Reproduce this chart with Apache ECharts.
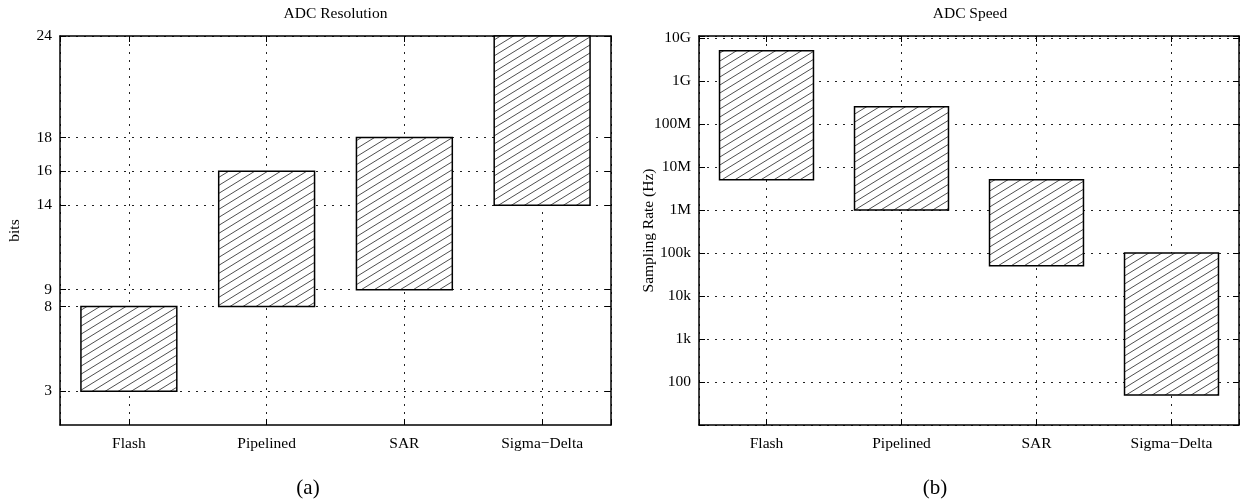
<!DOCTYPE html>
<html><head><meta charset="utf-8">
<script src="https://cdn.jsdelivr.net/npm/echarts@6/dist/echarts.min.js"></script>
<style>html,body{margin:0;padding:0;background:#fff}#c{width:1242px;height:501px}</style>
</head><body><div id="c"></div>
<script>
const categories = ['Flash', 'Pipelined', 'SAR', 'Sigma\u2212Delta'];
const resolutionLow = [3, 8, 9, 14];
const resolutionHigh = [8, 16, 18, 24];
const resolutionTicks = [3, 8, 9, 14, 16, 18, 24];
const speedLow = [5e6, 1e6, 5e4, 50];
const speedHigh = [5e9, 2.5e8, 5e6, 1e5];
const speedTickExponents = [2, 3, 4, 5, 6, 7, 8, 9, 10];
const speedTickLabels = ['100', '1k', '10k', '100k', '1M', '10M', '100M', '1G', '10G'];

const FONT = 'Liberation Serif';
const FS = 15.5;
const HALF = 0.348;

function makeHatch() {
  const c = document.createElement('canvas');
  const w = 13, h = 7.6;
  c.width = w; c.height = Math.round(h);
  const H = c.height;
  const ctx = c.getContext('2d');
  ctx.fillStyle = '#fff';
  ctx.fillRect(0, 0, w, H);
  ctx.strokeStyle = '#000';
  ctx.lineWidth = 0.7;
  ctx.beginPath();
  for (const dx of [-w, 0, w]) {
    ctx.moveTo(dx - 2, H + 2 * H / w);
    ctx.lineTo(dx + w + 2, -2 * H / w);
  }
  ctx.stroke();
  return c;
}
const hatch = makeHatch();

function renderRange(params, api) {
  const i = api.value(0);
  const a = api.coord([i - HALF, api.value(2)]);
  const b = api.coord([i + HALF, api.value(1)]);
  return {
    type: 'rect',
    shape: { x: a[0], y: a[1], width: b[0] - a[0], height: b[1] - a[1] },
    style: { fill: { image: hatch, repeat: 'repeat' }, stroke: '#000', lineWidth: 1.5 }
  };
}

const gridLine = { show: true, lineStyle: { color: '#222', width: 1, type: [2, 6] } };
const axisLine = { show: true, onZero: false, lineStyle: { color: '#000', width: 1.5 } };
const txt = { fontFamily: FONT, fontSize: FS, color: '#000' };

function catFormatter(v) {
  const i = Math.round(v);
  return Math.abs(v - i) < 1e-6 && categories[i] ? categories[i] : '';
}
function speedFormatter(v) {
  const e = Math.log10(v);
  const r = Math.round(e);
  if (Math.abs(e - r) > 1e-6) return '';
  const k = speedTickExponents.indexOf(r);
  return k >= 0 ? speedTickLabels[k] : '';
}

function xAxes(gi) {
  return [
    { type: 'value', gridIndex: gi, min: -0.5, max: 3.5, splitNumber: 4, position: 'bottom',
      axisLine, axisTick: { show: true, inside: true, length: 6, lineStyle: { color: '#000' } },
      splitLine: gridLine,
      axisLabel: Object.assign({ margin: 11, formatter: catFormatter, showMinLabel: true, showMaxLabel: true }, txt) },
    { type: 'value', gridIndex: gi, min: -0.5, max: 3.5, splitNumber: 4, position: 'top',
      axisLine, axisTick: { show: true, inside: true, length: 6, lineStyle: { color: '#000' } },
      splitLine: { show: false }, axisLabel: { show: false } }
  ];
}

const option = {
  animation: false,
  backgroundColor: '#fff',
  grid: [
    { left: 60, top: 36, width: 551, height: 389, containLabel: false },
    { left: 699, top: 36, width: 542, height: 389, containLabel: false }
  ],
  xAxis: [...xAxes(0), ...xAxes(1)],
  yAxis: [
    { type: 'value', gridIndex: 0, min: 1, max: 24, position: 'left',
      name: 'bits', nameLocation: 'middle', nameGap: 37, nameRotate: 90, nameMoveOverlap: false,
      nameTextStyle: txt,
      axisLine,
      axisTick: { show: true, inside: true, length: 6, customValues: resolutionTicks, lineStyle: { color: '#000' } },
      splitLine: gridLine,
      axisLabel: Object.assign({ margin: 8, customValues: resolutionTicks }, txt) },
    { type: 'value', gridIndex: 0, min: 1, max: 24, position: 'right',
      axisLine,
      axisTick: { show: true, inside: true, length: 6, customValues: resolutionTicks, lineStyle: { color: '#000' } },
      splitLine: { show: false }, axisLabel: { show: false } },
    { type: 'log', logBase: 10, gridIndex: 1, min: 10, max: 1.1e10, interval: 1, position: 'left',
      name: 'Sampling Rate (Hz)', nameLocation: 'middle', nameGap: 42, nameRotate: 90, nameMoveOverlap: false,
      nameTextStyle: txt,
      axisLine,
      axisTick: { show: true, inside: true, length: 6, lineStyle: { color: '#000' } },
      minorTick: { show: false },
      splitLine: gridLine,
      axisLabel: Object.assign({ margin: 8, formatter: speedFormatter }, txt) },
    { type: 'log', logBase: 10, gridIndex: 1, min: 10, max: 1.1e10, interval: 1, position: 'right',
      axisLine,
      axisTick: { show: true, inside: true, length: 6, lineStyle: { color: '#000' } },
      splitLine: { show: false }, axisLabel: { show: false } }
  ],
  graphic: [
    { type: 'text', x: 335.5, y: 14, style: { text: 'ADC Resolution', font: FS + 'px "' + FONT + '"', fill: '#000', align: 'center', verticalAlign: 'middle' } },
    { type: 'text', x: 970, y: 14, style: { text: 'ADC Speed', font: FS + 'px "' + FONT + '"', fill: '#000', align: 'center', verticalAlign: 'middle' } },
    { type: 'text', x: 308, y: 488, style: { text: '(a)', font: '21px "' + FONT + '"', fill: '#000', align: 'center', verticalAlign: 'middle' } },
    { type: 'text', x: 935, y: 488, style: { text: '(b)', font: '21px "' + FONT + '"', fill: '#000', align: 'center', verticalAlign: 'middle' } }
  ],
  series: [
    { type: 'custom', name: 'Resolution', xAxisIndex: 0, yAxisIndex: 0,
      renderItem: renderRange, encode: { x: 0, y: [1, 2] },
      data: categories.map((c, i) => [i, resolutionLow[i], resolutionHigh[i]]) },
    { type: 'custom', name: 'Speed', xAxisIndex: 2, yAxisIndex: 2,
      renderItem: renderRange, encode: { x: 0, y: [1, 2] },
      data: categories.map((c, i) => [i, speedLow[i], speedHigh[i]]) }
  ]
};

const chart = echarts.init(document.getElementById('c'), null, { renderer: 'canvas' });
chart.setOption(option);
</script>
</body></html>
